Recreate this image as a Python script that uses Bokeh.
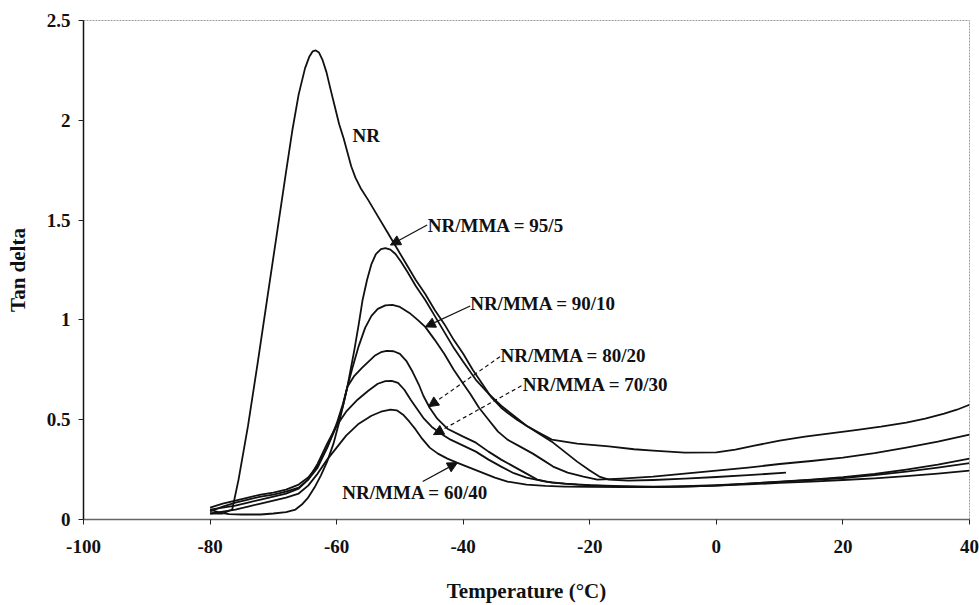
from bokeh.plotting import figure
from bokeh.models import FixedTicker, Arrow, NormalHead, Range1d
from bokeh.core.properties import value
from bokeh.embed import file_html
from bokeh.resources import INLINE

# ---------------- data ----------------
x_ticks = [-100, -80, -60, -40, -20, 0, 20, 40]
x_tick_labels = ["-100", "-80", "-60", "-40", "-20", "0", "20", "40"]
y_ticks = [0, 0.5, 1, 1.5, 2, 2.5]
y_tick_labels = ["0", "0.5", "1", "1.5", "2", "2.5"]

nr_T = [-80, -78, -76.5, -75.5, -74, -72.5, -71, -69.5, -68, -67, -66, -65, -64.3, -63.8, -63.3,
        -62.8, -62.2, -61.6, -61, -60.3, -59.6, -58.9, -58.3, -57.7, -57, -56.2, -55, -53.5, -52,
        -50.5, -49, -47.5, -46, -44.5, -43, -41.5, -40, -38.5, -37, -35.5, -34, -33, -31.5, -30,
        -28, -26, -22, -17, -13, -10, -5, 0, 3, 6, 10, 14, 18, 22, 26, 30, 33, 36, 38, 40]
nr_v = [0.03, 0.03, 0.05, 0.2, 0.47, 0.78, 1.1, 1.42, 1.74, 1.95, 2.13, 2.26, 2.32, 2.345, 2.35,
        2.34, 2.3, 2.24, 2.16, 2.07, 1.98, 1.91, 1.84, 1.77, 1.71, 1.66, 1.6, 1.52, 1.44,
        1.36, 1.28, 1.2, 1.13, 1.05, 0.98, 0.9, 0.83, 0.75, 0.68, 0.61, 0.56, 0.535, 0.5, 0.47,
        0.435, 0.4, 0.38, 0.366, 0.352, 0.345, 0.335, 0.336, 0.35, 0.37, 0.395, 0.415,
        0.432, 0.448, 0.465, 0.485, 0.505, 0.53, 0.55, 0.575]

m95_T = [-80, -78.5, -77, -75, -72, -70, -68, -66.5, -65.5, -64.5, -63.5, -62.5, -61.5, -60.5,
         -59.5, -58.3, -57.2, -56.5, -55.9, -55.2, -54.5, -53.8, -53, -52.3, -51.5, -50.7, -49.8,
         -48.8, -47.5, -46, -44.5, -43, -41.5, -40, -38, -36, -34, -32, -30, -28, -26, -24, -22,
         -20, -18.5, -17, -14, -10, -5, 0, 5, 11]
m95_v = [0.05, 0.035, 0.027, 0.025, 0.025, 0.03, 0.037, 0.05, 0.075, 0.11, 0.16, 0.22, 0.29, 0.38,
         0.5, 0.665, 0.85, 0.98, 1.1, 1.2, 1.28, 1.33, 1.355, 1.36, 1.352, 1.33, 1.29,
         1.24, 1.17, 1.1, 1.02, 0.94, 0.86, 0.79, 0.7, 0.63, 0.57, 0.52, 0.47, 0.43, 0.39, 0.34, 0.29,
         0.245, 0.215, 0.2, 0.195, 0.198, 0.205, 0.213, 0.222, 0.235]

m90_T = [-80, -78, -76, -74, -72, -70, -68, -66, -64.5, -63, -61.5, -60, -59, -58.3, -57.5,
         -56.5, -55.5, -54.5, -53.5, -52.3, -51.2, -50, -48.5, -47.2, -46, -44.5, -43, -41.5,
         -40, -38.9, -37.5, -36, -34.5, -33, -31, -29, -27.5, -25.8, -23.5, -21, -18.8, -15,
         -10, -5, 0, 5, 10, 15, 20, 25, 30, 35, 40]
m90_v = [0.06, 0.08, 0.095, 0.11, 0.125, 0.135, 0.15, 0.175, 0.21, 0.27, 0.36, 0.47, 0.57, 0.665, 0.76,
         0.87, 0.96, 1.02, 1.055, 1.073, 1.075, 1.065, 1.035, 1.0, 0.965, 0.9, 0.83, 0.75,
         0.68, 0.63, 0.56, 0.5, 0.44, 0.4, 0.365, 0.33, 0.3, 0.265, 0.235, 0.215, 0.2, 0.205,
         0.215, 0.23, 0.245, 0.26, 0.278, 0.293, 0.31, 0.333, 0.36, 0.39, 0.425]

m80_T = [-80, -78, -76, -74, -72, -70, -68, -66, -64.5, -63, -61.5, -60, -59, -58.3, -57.2,
         -56, -55, -54, -53, -52.1, -51, -50, -49, -48, -47, -46.3, -45.3, -44.1, -42.5, -40,
         -38, -36, -34, -32, -30, -28.3, -26, -22, -18, -14, -10, -5, 0, 5, 10, 15, 20, 25,
         30, 35, 40]
m80_v = [0.04, 0.065, 0.085, 0.1, 0.115, 0.125, 0.14, 0.16, 0.2, 0.26, 0.36, 0.48, 0.58, 0.665, 0.72,
         0.76, 0.79, 0.82, 0.838, 0.845, 0.843, 0.83, 0.795, 0.74, 0.675, 0.62, 0.56, 0.505, 0.455, 0.415,
         0.385, 0.34, 0.3, 0.265, 0.23, 0.2, 0.185, 0.175, 0.168, 0.165, 0.162, 0.165, 0.17, 0.18,
         0.19, 0.2, 0.212, 0.228, 0.25, 0.275, 0.305]

m70_T = [-80, -78, -76, -74, -72, -70, -68, -66, -64.5, -63, -61.5, -60, -58.5, -56.7, -55,
         -53.5, -52.3, -51.3, -50.3, -49.3, -48.3, -47.2, -46.2, -45, -43.5, -42, -40, -38,
         -36, -34, -32, -30, -27, -24, -20, -15, -10, -5, 0, 5, 10, 15, 20, 25, 30, 35, 40]
m70_v = [0.05, 0.06, 0.07, 0.085, 0.1, 0.115, 0.13, 0.155, 0.2, 0.28, 0.38, 0.47, 0.54, 0.6, 0.645,
         0.68, 0.693, 0.695, 0.685, 0.65, 0.6, 0.55, 0.505, 0.465, 0.43, 0.4, 0.37, 0.34,
         0.3, 0.265, 0.232, 0.21, 0.19, 0.18, 0.172, 0.167, 0.165, 0.167, 0.172, 0.18, 0.188,
         0.198, 0.208, 0.222, 0.24, 0.26, 0.282]

m60_T = [-80, -78, -76, -74, -72, -70, -68, -66, -64.5, -63, -61.5, -60, -58.5, -56.5, -54.5,
         -53, -51.5, -50.5, -49.5, -48.5, -47.5, -46.5, -45.3, -44, -42.5, -41, -39, -37, -35,
         -33, -30, -27, -24, -20, -15, -10, -5, 0, 5, 10, 15, 20, 25, 30, 35, 40]
m60_v = [0.03, 0.04, 0.05, 0.065, 0.08, 0.095, 0.11, 0.13, 0.17, 0.23, 0.3, 0.36, 0.42, 0.48, 0.52,
         0.54, 0.55, 0.547, 0.525, 0.49, 0.45, 0.405, 0.36, 0.33, 0.305, 0.285, 0.26, 0.235, 0.21,
         0.19, 0.175, 0.168, 0.165, 0.163, 0.162, 0.162, 0.165, 0.17, 0.176, 0.183, 0.19,
         0.198, 0.206, 0.217, 0.23, 0.245]

series = [(nr_T, nr_v), (m95_T, m95_v), (m90_T, m90_v), (m80_T, m80_v),
          (m70_T, m70_v), (m60_T, m60_v)]

labels = ["NR", "NR/MMA = 95/5", "NR/MMA = 90/10", "NR/MMA = 80/20",
          "NR/MMA = 70/30", "NR/MMA = 60/40"]

# ---------------- figure ----------------
FONT = "Liberation Serif"
p = figure(width=979, height=605, x_range=Range1d(-100, 40), y_range=Range1d(0, 2.5),
           output_backend="svg", toolbar_location=None,
           min_border_left=83, min_border_right=10, min_border_top=20, min_border_bottom=85)
p.xgrid.visible = False
p.ygrid.visible = False
p.background_fill_color = "white"
p.border_fill_color = "white"
p.outline_line_color = "#9a9a9a"
p.outline_line_width = 1
p.outline_line_dash = "2 1"

for ax, ticks, tl in ((p.xaxis[0], x_ticks, x_tick_labels), (p.yaxis[0], y_ticks, y_tick_labels)):
    ax.ticker = FixedTicker(ticks=ticks)
    ax.major_label_overrides = {t: s for t, s in zip(ticks, tl)}
    ax.minor_tick_line_color = None
    ax.major_tick_in = 0
    ax.major_tick_out = 5
    ax.major_tick_line_color = "#222"
    ax.major_label_text_font = FONT
    ax.major_label_text_font_style = "bold"
    ax.major_label_text_font_size = "19px"
    ax.major_label_text_color = "#111"
    ax.axis_label_text_font = FONT
    ax.axis_label_text_font_style = "bold"
    ax.axis_label_text_font_size = "21px"
    ax.axis_label_text_color = "#111"

p.yaxis.axis_line_color = "#111"
p.yaxis.axis_line_width = 1.5
p.xaxis.axis_line_color = "#666"
p.xaxis.axis_line_width = 1.3
p.yaxis.major_label_standoff = 8
p.xaxis.major_label_standoff = 15
p.yaxis.axis_label = "Tan delta"
p.xaxis.axis_label = "Temperature (°C)"
p.yaxis.axis_label_standoff = 14
p.xaxis.axis_label_standoff = 23

for T, v in series:
    p.line(T, v, line_color="#111", line_width=1.8, line_join="round")

# ---------------- annotations ----------------
label_x = [-57.5, -45.6, -38.9, -34.1, -30.6, -59.1]
label_y = [1.925, 1.475, 1.08, 0.82, 0.675, 0.135]
p.text(x=label_x, y=label_y, text=labels, text_font=value(FONT), text_font_style="bold",
       text_font_size="19px", text_baseline="middle", text_align="left", text_color="#111")

arrows = [
    (-45.7, 1.475, -51.5, 1.375, "solid"),
    (-38.9, 1.07, -46.0, 0.965, "solid"),
    (-34.2, 0.815, -45.5, 0.565, "4 3"),
    (-30.8, 0.67, -44.7, 0.425, "4 3"),
    (-46.4, 0.19, -40.9, 0.285, "solid"),
]
for xs, ys, xe, ye, dash in arrows:
    p.add_layout(Arrow(end=NormalHead(size=10, fill_color="#111", line_color="#111", line_width=1),
                       x_start=xs, y_start=ys, x_end=xe, y_end=ye,
                       line_color="#111", line_width=1.2, line_dash=dash))

open("out.html", "w").write(file_html(p, INLINE))
